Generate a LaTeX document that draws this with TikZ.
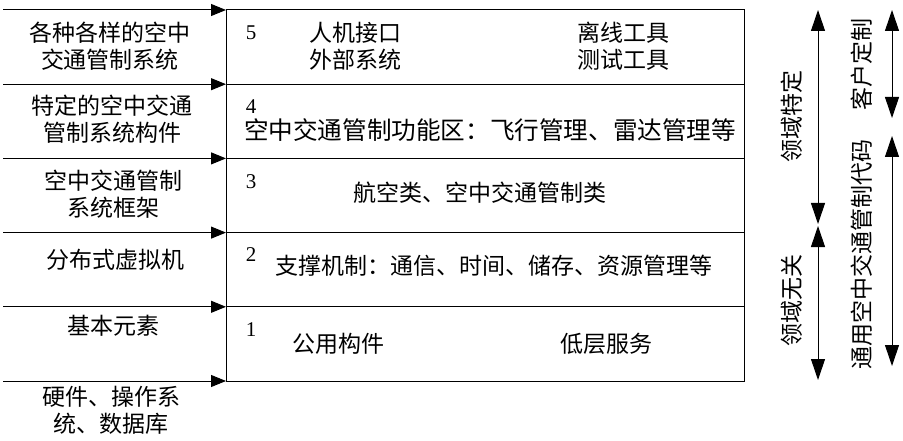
\documentclass[tikz,border=0pt]{standalone}
\usepackage{fontspec}
\setmainfont{Liberation Serif}
\newfontfamily\cjk{Noto Sans CJK SC}
\usetikzlibrary{arrows.meta}

\begin{document}
\begin{tikzpicture}[x=1pt, y=-1pt, every node/.style={inner sep=0pt, outer sep=0pt, font=\cjk\fontsize{23}{27}\selectfont},
	layer/.style={draw, line width=1pt, minimum width=518pt, minimum height=74.2pt, anchor=north west},
	num/.style={font=\fontsize{21}{24}\selectfont},
	side/.style={align=center},
	feed/.style={line width=1pt, -{Triangle[length=15pt,width=12pt]}},
	span/.style={line width=1pt, {Triangle[length=21pt,width=14pt]}-{Triangle[length=21pt,width=14pt]}},
	vert/.style={rotate=90}]
	\useasboundingbox (0,0) rectangle (903,441);
	% layers of the framework
	\node[layer] (row5) at (226,10) {};
	\node[layer] (row4) at (row5.south west) {};
	\node[layer] (row3) at (row4.south west) {};
	\node[layer] (row2) at (row3.south west) {};
	\node[layer] (row1) at (row2.south west) {};
	% inputs from the left
	\foreach \r in {5,4,3,2,1} {
		\coordinate (in\r) at ([xshift=-223pt]row\r.north west);
		\draw[feed] (in\r) -- (row\r.north west);
	}
	\coordinate (in0) at ([xshift=-223pt]row1.south west);
	\draw[feed] (in0) -- (row1.south west);
	% left labels
	\node[side] (src5) at (110,46) {各种各样的空中\\交通管制系统};
	\node[side] (src4) at (112,119) {特定的空中交通\\管制系统构件};
	\node[side] (src3) at (114,194) {空中交通管制\\系统框架};
	\node[side] (src2) at (115,260) {分布式虚拟机};
	\node[side] (src1) at (113,326) {基本元素};
	\node[side] (src0) at (111,410) {硬件、操作系\\统、数据库};
	% layer contents
	\node[num] (n5) at (251,33) {5};
	\node (hmi) at (355,33) {人机接口};
	\node (ext) at (355,60) {外部系统};
	\node (off) at (623,33) {离线工具};
	\node (test) at (623,60) {测试工具};
	\node[num] (n4) at (251,107) {4};
	\node[font=\cjk\fontsize{24.6}{27}\selectfont] (func) at (490,130) {空中交通管制功能区：飞行管理、雷达管理等};
	\node[num] (n3) at (251,182) {3};
	\node (cls) at (480,193) {航空类、空中交通管制类};
	\node[num] (n2) at (251,255) {2};
	\node (supp) at (494,266) {支撑机制：通信、时间、储存、资源管理等};
	\node[num] (n1) at (251,330) {1};
	\node (comm) at (338,344) {公用构件};
	\node (low) at (606,344) {低层服务};
	% ranges on the right
	\coordinate (ds1) at (818,10);
	\coordinate (ds2) at (818,224);
	\coordinate (di1) at (818,226);
	\coordinate (di2) at (818,380);
	\coordinate (cu1) at (892,10);
	\coordinate (cu2) at (892,118);
	\coordinate (gc1) at (892,136);
	\coordinate (gc2) at (892,366);
	\draw[span] (ds1) -- (ds2);
	\draw[span] (di1) -- (di2);
	\draw[span] (cu1) -- (cu2);
	\draw[span] (gc1) -- (gc2);
	\node[vert] (dspec) at (792,117) {领域特定};
	\node[vert] (dind) at (792,300) {领域无关};
	\node[vert] (cust) at (862,65) {客户定制};
	\node[vert] (gen) at (862,254) {通用空中交通管制代码};
\end{tikzpicture}
\end{document}
